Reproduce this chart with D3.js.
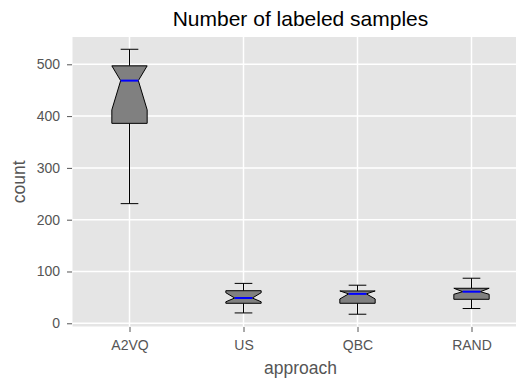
<!DOCTYPE html>
<html>
<head>
<meta charset="utf-8">
<script src="https://cdn.jsdelivr.net/npm/d3@7"></script>
<style>
  html, body { margin: 0; padding: 0; background: #ffffff; }
  svg { display: block; font-family: "Liberation Sans", Arial, Helvetica, sans-serif; }
</style>
</head>
<body>
<svg id="chart" width="516" height="378"></svg>
<script>
const categories  = ["A2VQ", "US", "QBC", "RAND"];
const whiskerLow  = [231, 20, 17.5, 28.5];
const q1          = [386, 38.6, 38.6, 46.3];
const notchLow    = [412, 41.5, 47, 56];
const median      = [468.5, 48.8, 56.8, 61];
const notchHigh   = [497, 59, 62.4, 67.6];
const q3          = [497, 62.9, 62.4, 67.6];
const whiskerHigh = [529, 77, 73.5, 87];
const yTicks      = [0, 100, 200, 300, 400, 500];

const W = 516, H = 378;
const panel = { left: 72.5, right: 528.5, top: 37, bottom: 326.5 };

const svg = d3.select("#chart");

const positions = categories.map((c, i) => i + 1);
const x = d3.scaleLinear().domain([0.5, 4.5]).range([panel.left, panel.right]);
const y = d3.scaleLinear().domain([-6.2, 552.7]).range([panel.bottom, panel.top]);

const boxHalf = 0.155;   // in category units
const capHalf = boxHalf / 2;

// panel background
svg.append("rect")
  .attr("x", panel.left).attr("y", panel.top)
  .attr("width", W - panel.left).attr("height", panel.bottom - panel.top)
  .attr("fill", "#e5e5e5");

// grid
const grid = svg.append("g");
grid.selectAll("line.hy").data(yTicks).enter().append("line")
  .attr("x1", panel.left).attr("x2", W)
  .attr("y1", d => y(d)).attr("y2", d => y(d))
  .attr("stroke", "#ffffff").attr("stroke-width", 1.5);
grid.selectAll("line.vx").data(positions).enter().append("line")
  .attr("y1", panel.top).attr("y2", panel.bottom)
  .attr("x1", d => x(d)).attr("x2", d => x(d))
  .attr("stroke", "#ffffff").attr("stroke-width", 1.5);

// axes
const yAxis = d3.axisLeft(y).tickValues(yTicks).tickSize(5).tickPadding(7).tickFormat(d3.format("d"));
const gy = svg.append("g").attr("transform", `translate(${panel.left - 0.5},0)`).call(yAxis);
gy.select(".domain").remove();
gy.selectAll(".tick line").attr("stroke", "#555555").attr("stroke-width", 1);
gy.selectAll(".tick text").attr("fill", "#555555").style("font-size", "14px")
  .style("font-family", "'Liberation Sans', Arial, sans-serif");

const xAxis = d3.axisBottom(x).tickValues(positions).tickSize(5).tickPadding(8)
  .tickFormat((d, i) => categories[i]);
const gx = svg.append("g").attr("transform", `translate(0,${panel.bottom + 0.5})`).call(xAxis);
gx.select(".domain").remove();
gx.selectAll(".tick line").attr("stroke", "#555555").attr("stroke-width", 1);
gx.selectAll(".tick text").attr("fill", "#555555").style("font-size", "14px")
  .style("font-family", "'Liberation Sans', Arial, sans-serif");

// boxes
const line = d3.line().x(d => x(d[0])).y(d => y(d[1]));
const boxes = svg.append("g");
categories.forEach((c, i) => {
  const p = positions[i];
  const L = p - boxHalf, R = p + boxHalf, cl = p - capHalf, cr = p + capHalf;
  // whiskers
  boxes.append("path").attr("d", line([[p, q3[i]], [p, whiskerHigh[i]]]))
    .attr("stroke", "#000").attr("stroke-width", 1).attr("fill", "none");
  boxes.append("path").attr("d", line([[p, q1[i]], [p, whiskerLow[i]]]))
    .attr("stroke", "#000").attr("stroke-width", 1).attr("fill", "none");
  // caps
  boxes.append("path").attr("d", line([[cl, whiskerHigh[i]], [cr, whiskerHigh[i]]]))
    .attr("stroke", "#000").attr("stroke-width", 1).attr("fill", "none");
  boxes.append("path").attr("d", line([[cl, whiskerLow[i]], [cr, whiskerLow[i]]]))
    .attr("stroke", "#000").attr("stroke-width", 1).attr("fill", "none");
  // notched box
  const pts = [
    [L, q1[i]], [L, notchLow[i]], [cl, median[i]], [L, notchHigh[i]], [L, q3[i]],
    [R, q3[i]], [R, notchHigh[i]], [cr, median[i]], [R, notchLow[i]], [R, q1[i]]
  ];
  boxes.append("path").attr("d", line(pts) + "Z")
    .attr("fill", "#808080").attr("stroke", "#000").attr("stroke-width", 1)
    .attr("stroke-linejoin", "miter");
  // median
  boxes.append("path").attr("d", line([[cl, median[i]], [cr, median[i]]]))
    .attr("stroke", "#0000ff").attr("stroke-width", 2).attr("fill", "none");
});

// title and labels
svg.append("text").attr("x", (panel.left + panel.right) / 2).attr("y", 26)
  .attr("text-anchor", "middle").attr("fill", "#000").style("font-size", "21px")
  .text("Number of labeled samples");
svg.append("text").attr("x", (panel.left + panel.right) / 2).attr("y", 373.5)
  .attr("text-anchor", "middle").attr("fill", "#555555").style("font-size", "17.5px")
  .text("approach");
svg.append("text").attr("transform", `translate(25,${(panel.top + panel.bottom) / 2}) rotate(-90)`)
  .attr("text-anchor", "middle").attr("fill", "#555555").style("font-size", "17.5px")
  .text("count");
</script>
</body>
</html>
